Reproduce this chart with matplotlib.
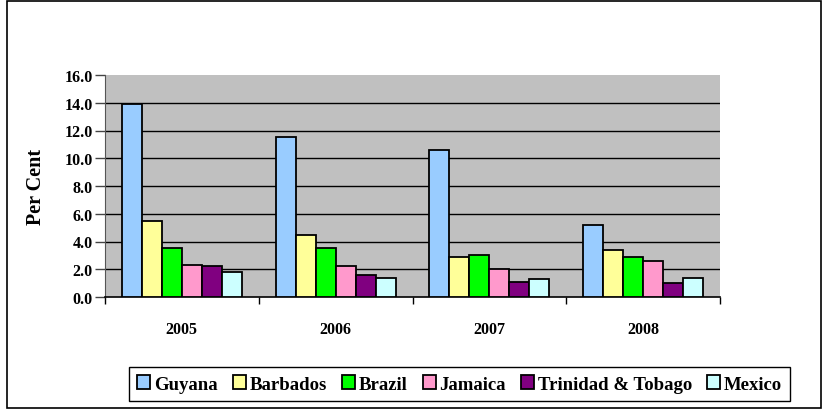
import numpy as np
import matplotlib.pyplot as plt
from matplotlib.patches import Rectangle, Patch

years = ["2005", "2006", "2007", "2008"]
countries = ["Guyana", "Barbados", "Brazil", "Jamaica", "Trinidad & Tobago", "Mexico"]
guyana = [13.9, 11.5, 10.6, 5.2]
barbados = [5.5, 4.5, 2.9, 3.4]
brazil = [3.5, 3.5, 3.0, 2.9]
jamaica = [2.3, 2.2, 2.0, 2.6]
trinidad = [2.2, 1.6, 1.1, 1.0]
mexico = [1.8, 1.4, 1.3, 1.4]
yticks = [0, 2, 4, 6, 8, 10, 12, 14, 16]

series = [guyana, barbados, brazil, jamaica, trinidad, mexico]
colors = ["#99CCFF", "#FFFF99", "#00FF00", "#FF99CC", "#800080", "#CCFFFF"]

plt.rcParams['font.family'] = ['Liberation Serif', 'DejaVu Serif']
plt.rcParams['font.weight'] = 'bold'

fig = plt.figure(figsize=(8.24, 4.10), dpi=100)
ax = fig.add_axes([105/824, 112/410, 615/824, 222/410])
ax.set_facecolor("#C0C0C0")

x = np.arange(len(years))
w = 0.13
for i, (vals, c) in enumerate(zip(series, colors)):
    ax.bar(x + (i - 2.5) * w, vals, w, color=c, edgecolor="black", linewidth=1.3, zorder=3, label=countries[i])

for t in yticks[1:-1]:
    ax.axhline(t, color="black", linewidth=1.0, zorder=1)

ax.set_xlim(-0.5, 3.5)
ax.set_ylim(0, 16)
ax.set_yticks(yticks)
ax.set_yticklabels(["%.1f" % t for t in yticks], fontsize=11.5, fontweight='bold')
ax.set_xticks(np.arange(-0.5, 4, 1))
ax.set_xticklabels([])
ax.set_xticks(x, minor=True)
ax.set_xticklabels(years, minor=True, fontsize=11.5, fontweight='bold')
ax.tick_params(axis='x', which='minor', length=0, pad=17)
ax.tick_params(axis='x', which='major', length=5, width=1, color="black")
ax.tick_params(axis='y', length=7, width=1, color="#444444", pad=2)
for s in ["top", "right"]:
    ax.spines[s].set_visible(False)
ax.spines["left"].set_color("#555555")
ax.spines["bottom"].set_color("black")
ax.spines["bottom"].set_linewidth(1.2)

ax.set_ylabel("Per Cent", fontsize=14.5, fontweight='bold', labelpad=13)

handles = [Patch(facecolor=c, edgecolor="black", linewidth=1.3) for c in colors]
leg = fig.legend(handles, countries, loc="center", bbox_to_anchor=(459.5/824, 25/410), ncol=6,
                 fancybox=False, edgecolor="black", framealpha=1, handlelength=0.7, handleheight=0.7,
                 handletextpad=0.2, columnspacing=0.8, borderpad=0.45,
                 prop={'size': 13.5, 'weight': 'bold'})
leg.get_frame().set_linewidth(1.0)

fig.patches.append(Rectangle((7/824, 1/410), 814/824, 407/410, transform=fig.transFigure,
                             fill=False, edgecolor="black", linewidth=1.2))

fig.savefig("out.png", dpi=100)
